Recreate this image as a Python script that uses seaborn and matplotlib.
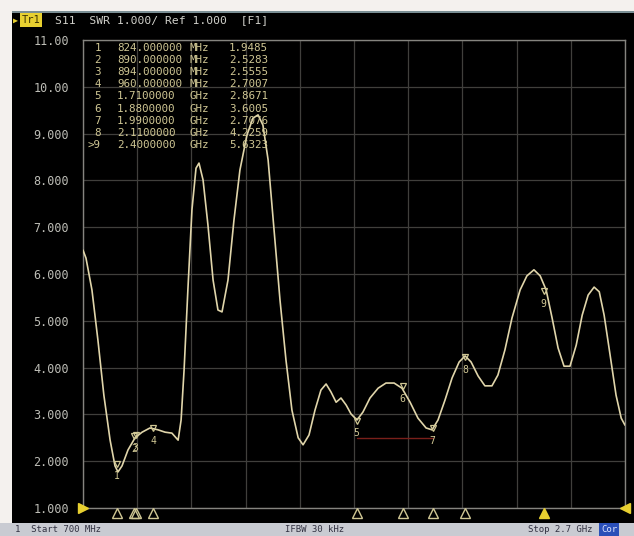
import numpy as np
import pandas as pd
import matplotlib
matplotlib.use("Agg")
import matplotlib.pyplot as plt
import matplotlib.transforms as mtransforms
import seaborn as sns

# ---------------- data ----------------
freq_mhz = [700, 711, 733, 755, 777, 800, 818, 829, 844, 866, 892, 918, 947, 977,
            1003, 1028, 1051, 1062, 1073, 1087, 1102, 1117, 1128, 1143, 1161, 1180,
            1198, 1213, 1235, 1257, 1279, 1305, 1327, 1346, 1364, 1383, 1405, 1427,
            1449, 1471, 1494, 1512, 1534, 1556, 1578, 1597, 1615, 1634, 1652, 1671,
            1689, 1711, 1733, 1759, 1789, 1818, 1848, 1877, 1907, 1936, 1966, 1988,
            2010, 2036, 2062, 2088, 2110, 2132, 2158, 2183, 2209, 2231, 2257, 2283,
            2313, 2338, 2364, 2387, 2409, 2431, 2453, 2475, 2497, 2520, 2542, 2564,
            2586, 2605, 2623, 2645, 2667, 2686, 2700]
swr = [6.51, 6.34, 5.66, 4.59, 3.41, 2.45, 1.90, 1.77, 1.90, 2.24, 2.50, 2.62, 2.71, 2.67,
       2.62, 2.60, 2.45, 2.88, 3.95, 5.66, 7.37, 8.26, 8.37, 8.01, 7.05, 5.87,
       5.23, 5.19, 5.87, 7.15, 8.22, 8.97, 9.33, 9.40, 9.18, 8.44, 6.94, 5.44,
       4.16, 3.09, 2.50, 2.35, 2.56, 3.09, 3.52, 3.65, 3.48, 3.26, 3.35, 3.20,
       3.01, 2.88, 3.05, 3.35, 3.56, 3.67, 3.67, 3.56, 3.26, 2.92, 2.71, 2.67,
       2.88, 3.31, 3.78, 4.12, 4.25, 4.12, 3.82, 3.61, 3.61, 3.84, 4.38, 5.06,
       5.66, 5.96, 6.09, 5.96, 5.66, 5.06, 4.42, 4.03, 4.03, 4.48, 5.12, 5.55,
       5.72, 5.62, 5.12, 4.27, 3.41, 2.92, 2.77]

marker_ids = ["1", "2", "3", "4", "5", "6", "7", "8", ">9"]
marker_freq_mhz = [824, 890, 894, 960, 1710, 1880, 1990, 2110, 2400]
marker_freq_text = ["824.000000", "890.000000", "894.000000", "960.000000",
                    "1.7100000", "1.8800000", "1.9900000", "2.1100000", "2.4000000"]
marker_units = ["MHz", "MHz", "MHz", "MHz", "GHz", "GHz", "GHz", "GHz", "GHz"]
marker_values = [1.9485, 2.5283, 2.5555, 2.7007, 2.8671, 3.6005, 2.7076, 4.2259, 5.6323]

limit_freq = [1710, 1990]
limit_swr = [2.5, 2.5]

ytick_vals = [1, 2, 3, 4, 5, 6, 7, 8, 9, 10, 11]
ytick_labels = ["1.000", "2.000", "3.000", "4.000", "5.000", "6.000",
                "7.000", "8.000", "9.000", "10.00", "11.00"]
xgrid = [700, 900, 1100, 1300, 1500, 1700, 1900, 2100, 2300, 2500, 2700]

header_text = "S11  SWR 1.000/ Ref 1.000  [F1]"
footer_left = "1  Start 700 MHz"
footer_mid = "IFBW 30 kHz"
footer_right = "Stop 2.7 GHz"

# ---------------- style ----------------
sns.set_theme(style="dark")
plt.rcParams["font.family"] = ["DejaVu Sans Mono", "DejaVu Sans"]

W, H = 634, 536
fig = plt.figure(figsize=(W / 100, H / 100), dpi=100, facecolor="black")

L, R, T, B = 83, 625, 40, 508
ax = fig.add_axes([L / W, 1 - B / H, (R - L) / W, (B - T) / H])
ax.set_facecolor("black")

trace_col = "#e0d5aa"
text_col = "#d0c794"
grid_col = "#403f3c"

df = pd.DataFrame({"freq": freq_mhz, "swr": swr})
sns.lineplot(data=df, x="freq", y="swr", ax=ax, color=trace_col, linewidth=1.2,
             sort=False, zorder=5)

# limit line
ax.plot(limit_freq, limit_swr, color="#7a1f1a", linewidth=1.0, zorder=4)

ax.set_xlim(700, 2700)
ax.set_ylim(1, 11)
ax.set_xticks(xgrid)
ax.set_xticklabels([])
ax.set_yticks(ytick_vals)
ax.set_yticklabels(ytick_labels, color="#bdbdb6", fontsize=8.5)
ax.tick_params(axis="both", length=0, pad=10)
ax.set_xlabel("")
ax.set_ylabel("")
ax.grid(True, color=grid_col, linewidth=0.9)
for s in ax.spines.values():
    s.set_visible(True)
    s.set_color("#85847f")
    s.set_linewidth(1.0)

# markers on trace
for mid, f, v in zip(marker_ids, marker_freq_mhz, marker_values):
    num = mid.replace(">", "")
    ax.plot([f], [v], marker="v", markersize=5, markerfacecolor="none",
            markeredgecolor=text_col, markeredgewidth=0.9, zorder=6)
    ax.annotate(num, (f, v), xytext=(0, -9), textcoords="offset points",
                ha="center", va="center", color=text_col, fontsize=7, zorder=6)

# bottom triangles for marker positions
trans = mtransforms.blended_transform_factory(ax.transData, ax.transAxes)
for mid, f in zip(marker_ids, marker_freq_mhz):
    active = mid.startswith(">")
    ax.plot([f], [-0.011], marker="^", markersize=6.5, transform=trans, clip_on=False,
            markerfacecolor="#e8d030" if active else "none",
            markeredgecolor="#e8d030" if active else text_col,
            markeredgewidth=1.0, zorder=7)

# reference level arrows
ax.plot([0.0], [0.0], marker=">", markersize=7, transform=ax.transAxes,
        clip_on=False, color="#e8d030", zorder=7)
ax.plot([1.0], [0.0], marker="<", markersize=7, transform=ax.transAxes,
        clip_on=False, color="#e8d030", zorder=7)

# marker table
row_y0 = 48
row_dy = 12.1
for i, (mid, ft, u, v) in enumerate(zip(marker_ids, marker_freq_text, marker_units, marker_values)):
    y = 1 - (row_y0 + i * row_dy) / H
    fig.text(101 / W, y, mid, ha="right", va="center", color=text_col, fontsize=7.8)
    fig.text(117 / W, y, ft, ha="left", va="center", color=text_col, fontsize=7.8)
    fig.text(189 / W, y, u, ha="left", va="center", color=text_col, fontsize=7.8)
    fig.text(268 / W, y, f"{v:.4f}", ha="right", va="center", color=text_col, fontsize=7.8)

# top white band
fig.patches.append(plt.Rectangle((0, 1 - 11 / H), 1, 11 / H, transform=fig.transFigure,
                                 facecolor="#f4f1ee", edgecolor="none", zorder=0))
fig.patches.append(plt.Rectangle((0, 1 - 13 / H), 1, 2 / H, transform=fig.transFigure,
                                 facecolor="#7b8f95", edgecolor="none", zorder=0))
# left white band
fig.patches.append(plt.Rectangle((0, 0), 12 / W, 1, transform=fig.transFigure,
                                 facecolor="#f4f1ee", edgecolor="none", zorder=0))
# bottom gray bar
fig.patches.append(plt.Rectangle((0, 0), 1, 13 / H, transform=fig.transFigure,
                                 facecolor="#c9cbd2", edgecolor="none", zorder=0))

# header
fig.text(13 / W, 1 - 20 / H, "\u25B6", color="#e8d030", fontsize=6, ha="left", va="center")
fig.text(31 / W, 1 - 20 / H, "Tr1", color="#3a3000", fontsize=7.5, ha="center", va="center",
         bbox=dict(boxstyle="square,pad=0.15", facecolor="#e8d030", edgecolor="none"))
fig.text(55 / W, 1 - 20 / H, header_text, color="#d0d0ca", fontsize=8.2, ha="left", va="center")

# footer
fig.text(15 / W, 6.5 / H, footer_left, color="#303040", fontsize=6.5, ha="left", va="center")
fig.text(285 / W, 6.5 / H, footer_mid, color="#303040", fontsize=6.5, ha="left", va="center")
fig.text(593 / W, 6.5 / H, footer_right, color="#303040", fontsize=6.5, ha="right", va="center")
fig.text(609 / W, 6.5 / H, "Cor", color="#dde4ff", fontsize=6.5, ha="center", va="center",
         bbox=dict(boxstyle="square,pad=0.2", facecolor="#2a4fb8", edgecolor="none"))

fig.savefig("out.png", dpi=100, facecolor="black")
